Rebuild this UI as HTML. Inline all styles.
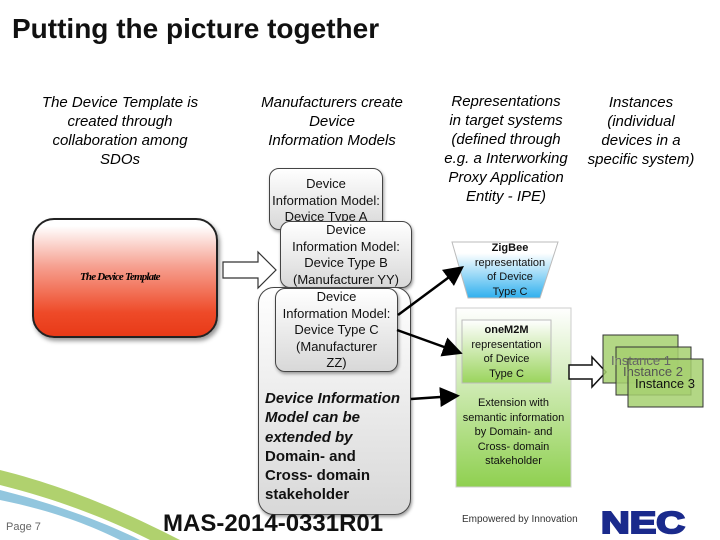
<!DOCTYPE html>
<html><head><style>
body{margin:0;width:720px;height:540px;background:#fff;position:relative;overflow:hidden;font-family:"Liberation Sans",Arial,sans-serif}
.a{position:absolute}
.t{text-align:center;font-size:15px;line-height:19px;white-space:nowrap}
.i{font-style:italic}
.g{background:linear-gradient(#fff,#d8d8d8);border:1.5px solid #444;border-radius:10px;box-sizing:border-box;text-align:center;font-size:13px;line-height:16.5px;color:#111;box-shadow:1px 2px 3px #999;white-space:nowrap}
</style></head><body>
<div class="a" style="left:12px;top:13px;font-size:28px;font-weight:bold;color:#111">Putting the picture together</div>
<div class="a t i" style="left:10px;top:93px;width:220px">The Device Template is<br>created through<br>collaboration among<br>SDOs</div>
<div class="a t i" style="left:232px;top:93px;width:200px">Manufacturers create<br>Device<br>Information Models</div>
<div class="a t i" style="left:426px;top:92px;width:160px">Representations<br>in target systems<br>(defined through<br>e.g. a Interworking<br>Proxy Application<br>Entity - IPE)</div>
<div class="a t i" style="left:576px;top:93px;width:130px">Instances<br>(individual<br>devices in a<br>specific system)</div>

<div class="a" style="left:32px;top:218px;width:186px;height:120px;border:2px solid #222;border-radius:22px;box-sizing:border-box;background:linear-gradient(#fff 5%,#f6a090 40%,#ee4a28 80%,#e83a18);box-shadow:2px 3px 4px #999"></div>
<div class="a" style="left:80px;top:271px;font-family:'Liberation Serif',serif;font-style:italic;font-weight:bold;font-size:11px;letter-spacing:-0.8px">The Device Template</div>

<svg class="a" style="left:0;top:0" width="720" height="540">
<polygon points="223,262 258,262 258,252 276,270 258,288 258,278 223,278" fill="#fff" stroke="#333" stroke-width="1.2"/>
<defs><marker id="m" markerWidth="8" markerHeight="8" refX="6" refY="4" orient="auto"><path d="M0,0 L8,4 L0,8z" fill="#000"/></marker></defs>
<path d="M0,470 C80,490 140,520 180,540 L150,540 C110,520 60,500 0,485z" fill="#9cc64a" opacity="0.8"/>
<path d="M0,490 C60,505 110,525 140,540 L120,540 C90,525 50,510 0,500z" fill="#4aa0c8" opacity="0.6"/>
</svg>

<div class="a g" style="left:269px;top:168px;width:114px;height:62px;padding-top:7px">Device<br>Information Model:<br>Device Type A</div>
<div class="a g" style="left:280px;top:221px;width:132px;height:67px;padding-top:0">Device<br>Information Model:<br>Device Type B<br>(Manufacturer YY)</div>
<div class="a g" style="left:258px;top:287px;width:153px;height:228px;border-radius:16px"></div>
<div class="a g" style="left:275px;top:288px;width:123px;height:84px;padding-top:0">Device<br>Information Model:<br>Device Type C<br>(Manufacturer<br>ZZ)</div>
<div class="a" style="left:265px;top:389px;font-size:15px;line-height:19.3px;font-weight:bold;color:#111;white-space:nowrap"><i>Device Information<br>Model can be<br>extended by</i><br>Domain- and<br>Cross- domain<br>stakeholder</div>

<svg class="a" style="left:0;top:0" width="720" height="540">
<defs><linearGradient id="bl" x1="0" y1="0" x2="0" y2="1"><stop offset="0.2" stop-color="#fff"/><stop offset="1" stop-color="#30b0ee"/></linearGradient>
<linearGradient id="gr" x1="0" y1="0" x2="0" y2="1"><stop offset="0" stop-color="#fff"/><stop offset="1" stop-color="#8fd050"/></linearGradient>
<linearGradient id="gr2" x1="0" y1="0" x2="0" y2="1"><stop offset="0" stop-color="#fff"/><stop offset="1" stop-color="#9ad45c"/></linearGradient></defs>
<polygon points="452,242 558,242 540,298 468,298" fill="url(#bl)" stroke="#bbb"/>
<rect x="456" y="308" width="115" height="179" fill="url(#gr)" stroke="#ccc"/>
<rect x="462" y="320" width="89" height="63" fill="url(#gr2)" stroke="#bbb"/>
<polygon points="569,365 592,365 592,357 606,372 592,387 592,379 569,379" fill="#fff" stroke="#111" stroke-width="1.5"/>
<rect x="603" y="335" width="75" height="48" fill="#a6d070" fill-opacity="0.85" stroke="#333"/>
<rect x="616" y="347" width="75" height="48" fill="#a6d070" fill-opacity="0.85" stroke="#333"/>
<rect x="628" y="359" width="75" height="48" fill="#a6d070" fill-opacity="0.85" stroke="#333"/>
<text x="611" y="365" font-size="13" fill="#666">Instance 1</text>
<text x="623" y="376" font-size="13" fill="#555">Instance 2</text>
<text x="635" y="388" font-size="13" fill="#111">Instance 3</text>
<line x1="398" y1="315" x2="460" y2="269" stroke="#000" stroke-width="2.5" marker-end="url(#m)"/>
<line x1="397" y1="330" x2="458" y2="352" stroke="#000" stroke-width="2.5" marker-end="url(#m)"/>
<line x1="411" y1="399" x2="455" y2="396" stroke="#000" stroke-width="2.5" marker-end="url(#m)"/>
<text x="601" y="533" font-size="31" font-weight="bold" fill="#1a2a8c" stroke="#1a2a8c" stroke-width="2" textLength="84" lengthAdjust="spacingAndGlyphs">NEC</text>
</svg>
<div class="a" style="left:452px;top:241px;width:116px;text-align:center;font-size:11px;line-height:14.5px;color:#111"><b>ZigBee</b><br>representation<br>of Device<br>Type C</div>
<div class="a" style="left:462px;top:323px;width:89px;text-align:center;font-size:11px;line-height:14.5px;color:#111"><b>oneM2M</b><br>representation<br>of Device<br>Type C</div>
<div class="a" style="left:456px;top:396px;width:115px;text-align:center;font-size:11px;line-height:14.5px;color:#111;white-space:nowrap">Extension with<br>semantic information<br>by Domain- and<br>Cross- domain<br>stakeholder</div>
<div class="a" style="left:462px;top:514px;font-size:10px;color:#333">Empowered by Innovation</div>
<div class="a" style="left:6px;top:521px;font-size:11px;color:#666">Page 7</div>
<div class="a" style="left:163px;top:510px;font-size:24px;font-weight:bold;color:#111">MAS-2014-0331R01</div>
</body></html>
